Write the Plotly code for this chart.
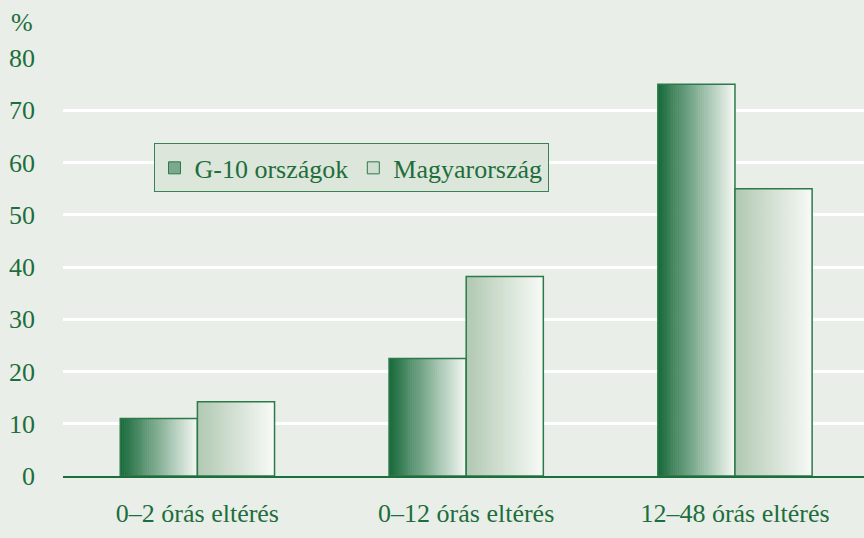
import plotly.graph_objects as go

categories = ["0–2 órás eltérés", "0–12 órás eltérés", "12–48 órás eltérés"]
g10_values = [11.0, 22.5, 75.0]
hu_values = [14.2, 38.2, 55.0]
series_names = ["G-10 országok", "Magyarország"]
y_ticks = [0, 10, 20, 30, 40, 50, 60, 70, 80]

GREEN = "#1d6e3c"
BG = "#e9eee8"
N = 40
W = 0.287
x = list(range(len(categories)))


def lerp(c1, c2, t):
    return "rgb(%d,%d,%d)" % tuple(round(a + (b - a) * t) for a, b in zip(c1, c2))


fig = go.Figure()

series = [
    (g10_values, -W, (23, 105, 58), (245, 248, 244), series_names[0]),
    (hu_values, 0.0, (176, 200, 178), (248, 250, 247), series_names[1]),
]

for vals, off0, c_left, c_right, name in series:
    for k in range(N):
        fig.add_trace(go.Bar(
            x=x, y=vals, width=W / N + 0.002, offset=off0 + k * W / N,
            marker=dict(color=lerp(c_left, c_right, (k + 0.5) / N), line=dict(width=0)),
            showlegend=False, hoverinfo="skip",
        ))
    fig.add_trace(go.Bar(
        x=x, y=vals, width=W, offset=off0, name=name,
        marker=dict(color="rgba(0,0,0,0)", line=dict(color="#2c7a48", width=1.5)),
        showlegend=False,
    ))
    fig.add_trace(go.Bar(
        x=[None], y=[None], name=name,
        marker=dict(color=lerp(c_left, c_right, 0.45), line=dict(color="#2c7a48", width=1)),
        showlegend=True,
    ))

fig.update_layout(
    width=864, height=538,
    paper_bgcolor=BG, plot_bgcolor=BG,
    barmode="overlay",
    margin=dict(l=63, r=0, t=58, b=62),
    font=dict(family="Liberation Serif", size=26, color=GREEN),
    legend=dict(
        orientation="h", x=0.113, y=0.737, xanchor="left", yanchor="middle",
        bgcolor="#dde6da", bordercolor="#3a8256", borderwidth=1,
        font=dict(family="Liberation Serif", size=26, color=GREEN),
        itemwidth=30, tracegroupgap=0,
    ),
    xaxis=dict(
        range=[-0.5, 2.48], tickvals=x, ticktext=categories,
        showgrid=False, zeroline=False, showline=True, linecolor=GREEN, linewidth=1.5,
        ticks="", ticklabelstandoff=13,
    ),
    yaxis=dict(
        range=[0, 80], tickvals=y_ticks, showgrid=True, gridcolor="white", gridwidth=3,
        zeroline=False, ticks="", ticklabelstandoff=27,
    ),
    annotations=[dict(text="%", x=0, y=1, xref="paper", yref="paper", showarrow=False,
                      xanchor="left", yanchor="middle", xshift=-54, yshift=36)],
)

fig.write_html("out.html", config={"displayModeBar": False},
               post_script="document.body.style.margin='0';")
